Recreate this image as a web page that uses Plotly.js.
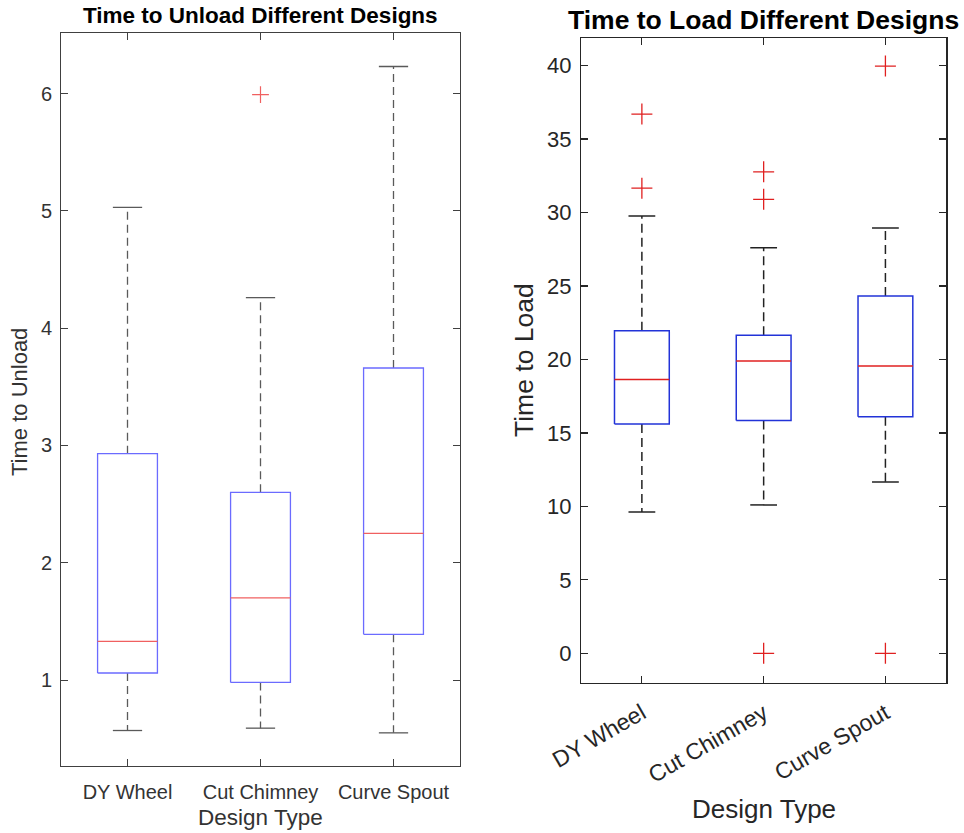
<!DOCTYPE html>
<html>
<head>
<meta charset="utf-8">
<script src="https://cdn.plot.ly/plotly-3.0.1.min.js"></script>
<style>html,body{margin:0;padding:0;background:#fff;}#chart{width:964px;height:833px;}</style>
</head>
<body>
<div id="chart"></div>
<script>
// ---- data ----
var categories = ['DY Wheel', 'Cut Chimney', 'Curve Spout'];

var unloadLower  = [0.57, 0.59, 0.55];
var unloadQ1     = [1.06, 0.98, 1.39];
var unloadMedian = [1.33, 1.70, 2.25];
var unloadQ3     = [2.93, 2.60, 3.66];
var unloadUpper  = [5.03, 4.26, 6.23];
var unloadOutlierCat = ['Cut Chimney'];
var unloadOutlierVal = [5.99];

var loadLower  = [9.62, 10.1, 11.66];
var loadQ1     = [15.6, 15.84, 16.1];
var loadMedian = [18.63, 19.9, 19.56];
var loadQ3     = [21.96, 21.65, 24.32];
var loadUpper  = [29.77, 27.61, 28.95];
var loadOutlierCat = ['DY Wheel', 'DY Wheel', 'Cut Chimney', 'Cut Chimney', 'Cut Chimney', 'Curve Spout', 'Curve Spout'];
var loadOutlierVal = [36.7, 31.66, 32.77, 30.9, 0, 39.97, 0];

var unloadTicks = [1, 2, 3, 4, 5, 6];
var loadTicks = [0, 5, 10, 15, 20, 25, 30, 35, 40];

// ---- build boxplot traces ----
function boxTraces(lower, q1, med, q3, upper, outCat, outVal, ax, st) {
  var bx = [], by = [], mx = [], my = [], wx = [], wy = [], cx = [], cy = [];
  var hw = 0.225, cw = 0.11;
  for (var i = 0; i < categories.length; i++) {
    var p = i + 1;
    bx.push(p - hw, p + hw, p + hw, p - hw, p - hw, null);
    by.push(q1[i], q1[i], q3[i], q3[i], q1[i], null);
    mx.push(p - hw, p + hw, null);
    my.push(med[i], med[i], null);
    wx.push(p, p, null, p, p, null);
    wy.push(q3[i], upper[i], null, q1[i], lower[i], null);
    cx.push(p - cw, p + cw, null, p - cw, p + cw, null);
    cy.push(upper[i], upper[i], null, lower[i], lower[i], null);
  }
  var ox = outCat.map(function (c) { return categories.indexOf(c) + 1; });
  var common = {xaxis: 'x' + ax, yaxis: 'y' + ax, mode: 'lines', hoverinfo: 'skip', showlegend: false};
  return [
    Object.assign({x: wx, y: wy, line: {color: st.whisker, width: st.lw, dash: st.dash}}, common),
    Object.assign({x: cx, y: cy, line: {color: st.whisker, width: st.lw}}, common),
    Object.assign({x: bx, y: by, line: {color: st.box, width: st.lw}}, common),
    Object.assign({x: mx, y: my, line: {color: st.med, width: st.lw}}, common),
    {x: ox, y: outVal, xaxis: 'x' + ax, yaxis: 'y' + ax, mode: 'markers', showlegend: false, hoverinfo: 'skip',
     marker: {symbol: 'cross-thin', size: st.ms, color: st.med, line: {color: st.med, width: st.mlw}}}
  ];
}

var leftStyle = {box: '#6b6bff', med: '#f06060', whisker: '#5a5a5a', lw: 1.3, dash: '8px,5px', ms: 12, mlw: 1.2};
var rightStyle = {box: '#2233d8', med: '#e02020', whisker: '#222222', lw: 1.5, dash: '9px,5px', ms: 15, mlw: 1.3};

var data = [].concat(
  boxTraces(unloadLower, unloadQ1, unloadMedian, unloadQ3, unloadUpper, unloadOutlierCat, unloadOutlierVal, '', leftStyle),
  boxTraces(loadLower, loadQ1, loadMedian, loadQ3, loadUpper, loadOutlierCat, loadOutlierVal, '2', rightStyle)
);

var W = 964, H = 833;
function px(v) { return v / W; }
function py(v) { return 1 - v / H; }

var fontL = 'Liberation Sans, Arial, Helvetica, sans-serif';

var layout = {
  width: W, height: H,
  margin: {l: 0, r: 0, t: 0, b: 0},
  paper_bgcolor: '#ffffff', plot_bgcolor: '#ffffff',
  showlegend: false,
  font: {family: fontL, color: '#262626'},
  xaxis: {
    domain: [px(61), px(460)], range: [0.5, 3.5], anchor: 'y',
    tickvals: [1, 2, 3], ticktext: categories,
    ticks: 'inside', ticklen: 7, tickcolor: '#404040', tickwidth: 1,
    showline: true, linecolor: '#404040', linewidth: 1, mirror: 'ticks',
    showgrid: false, zeroline: false,
    tickfont: {size: 20, color: '#333333'}, ticklabelstandoff: 8
  },
  yaxis: {
    domain: [py(765.7), py(32.5)], range: [0.27, 6.52], anchor: 'x',
    tickvals: unloadTicks,
    ticks: 'inside', ticklen: 7, tickcolor: '#404040', tickwidth: 1,
    showline: true, linecolor: '#404040', linewidth: 1, mirror: 'ticks',
    showgrid: false, zeroline: false,
    tickfont: {size: 20, color: '#333333'}, ticklabelstandoff: 4
  },
  xaxis2: {
    domain: [px(581), px(946.3)], range: [0.5, 3.5], anchor: 'y2',
    tickvals: [1, 2, 3], ticktext: categories, tickangle: -30,
    ticks: 'inside', ticklen: 7, tickcolor: '#262626', tickwidth: 1.2,
    showline: true, linecolor: '#262626', linewidth: 1.2, mirror: 'ticks',
    showgrid: false, zeroline: false,
    tickfont: {size: 23, color: '#262626'}, ticklabelstandoff: 7
  },
  yaxis2: {
    domain: [py(682.7), py(37.7)], range: [-2, 41.9], anchor: 'x2',
    tickvals: loadTicks,
    ticks: 'inside', ticklen: 7, tickcolor: '#262626', tickwidth: 1.2,
    showline: true, linecolor: '#262626', linewidth: 1.2, mirror: 'ticks',
    showgrid: false, zeroline: false,
    tickfont: {size: 22, color: '#262626'}, ticklabelstandoff: 4
  },
  annotations: [
    {text: '<b>Time to Unload Different Designs</b>', xref: 'paper', yref: 'paper', x: px(260), y: py(16), xanchor: 'center', yanchor: 'middle', showarrow: false, font: {size: 22.5, color: '#000000'}},
    {text: 'Design Type', xref: 'paper', yref: 'paper', x: px(260), y: py(817), xanchor: 'center', yanchor: 'middle', showarrow: false, font: {size: 22.5, color: '#333333'}},
    {text: 'Time to Unload', xref: 'paper', yref: 'paper', x: px(20), y: py(402), xanchor: 'center', yanchor: 'middle', textangle: -90, showarrow: false, font: {size: 22, color: '#333333'}},
    {text: '<b>Time to Load Different Designs</b>', xref: 'paper', yref: 'paper', x: px(763), y: py(20), xanchor: 'center', yanchor: 'middle', showarrow: false, font: {size: 26.5, color: '#000000'}},
    {text: 'Design Type', xref: 'paper', yref: 'paper', x: px(764), y: py(809), xanchor: 'center', yanchor: 'middle', showarrow: false, font: {size: 26, color: '#262626'}},
    {text: 'Time to Load', xref: 'paper', yref: 'paper', x: px(524), y: py(360), xanchor: 'center', yanchor: 'middle', textangle: -90, showarrow: false, font: {size: 26.5, color: '#262626'}}
  ]
};

Plotly.newPlot('chart', data, layout, {staticPlot: true, displayModeBar: false});
</script>
</body>
</html>
